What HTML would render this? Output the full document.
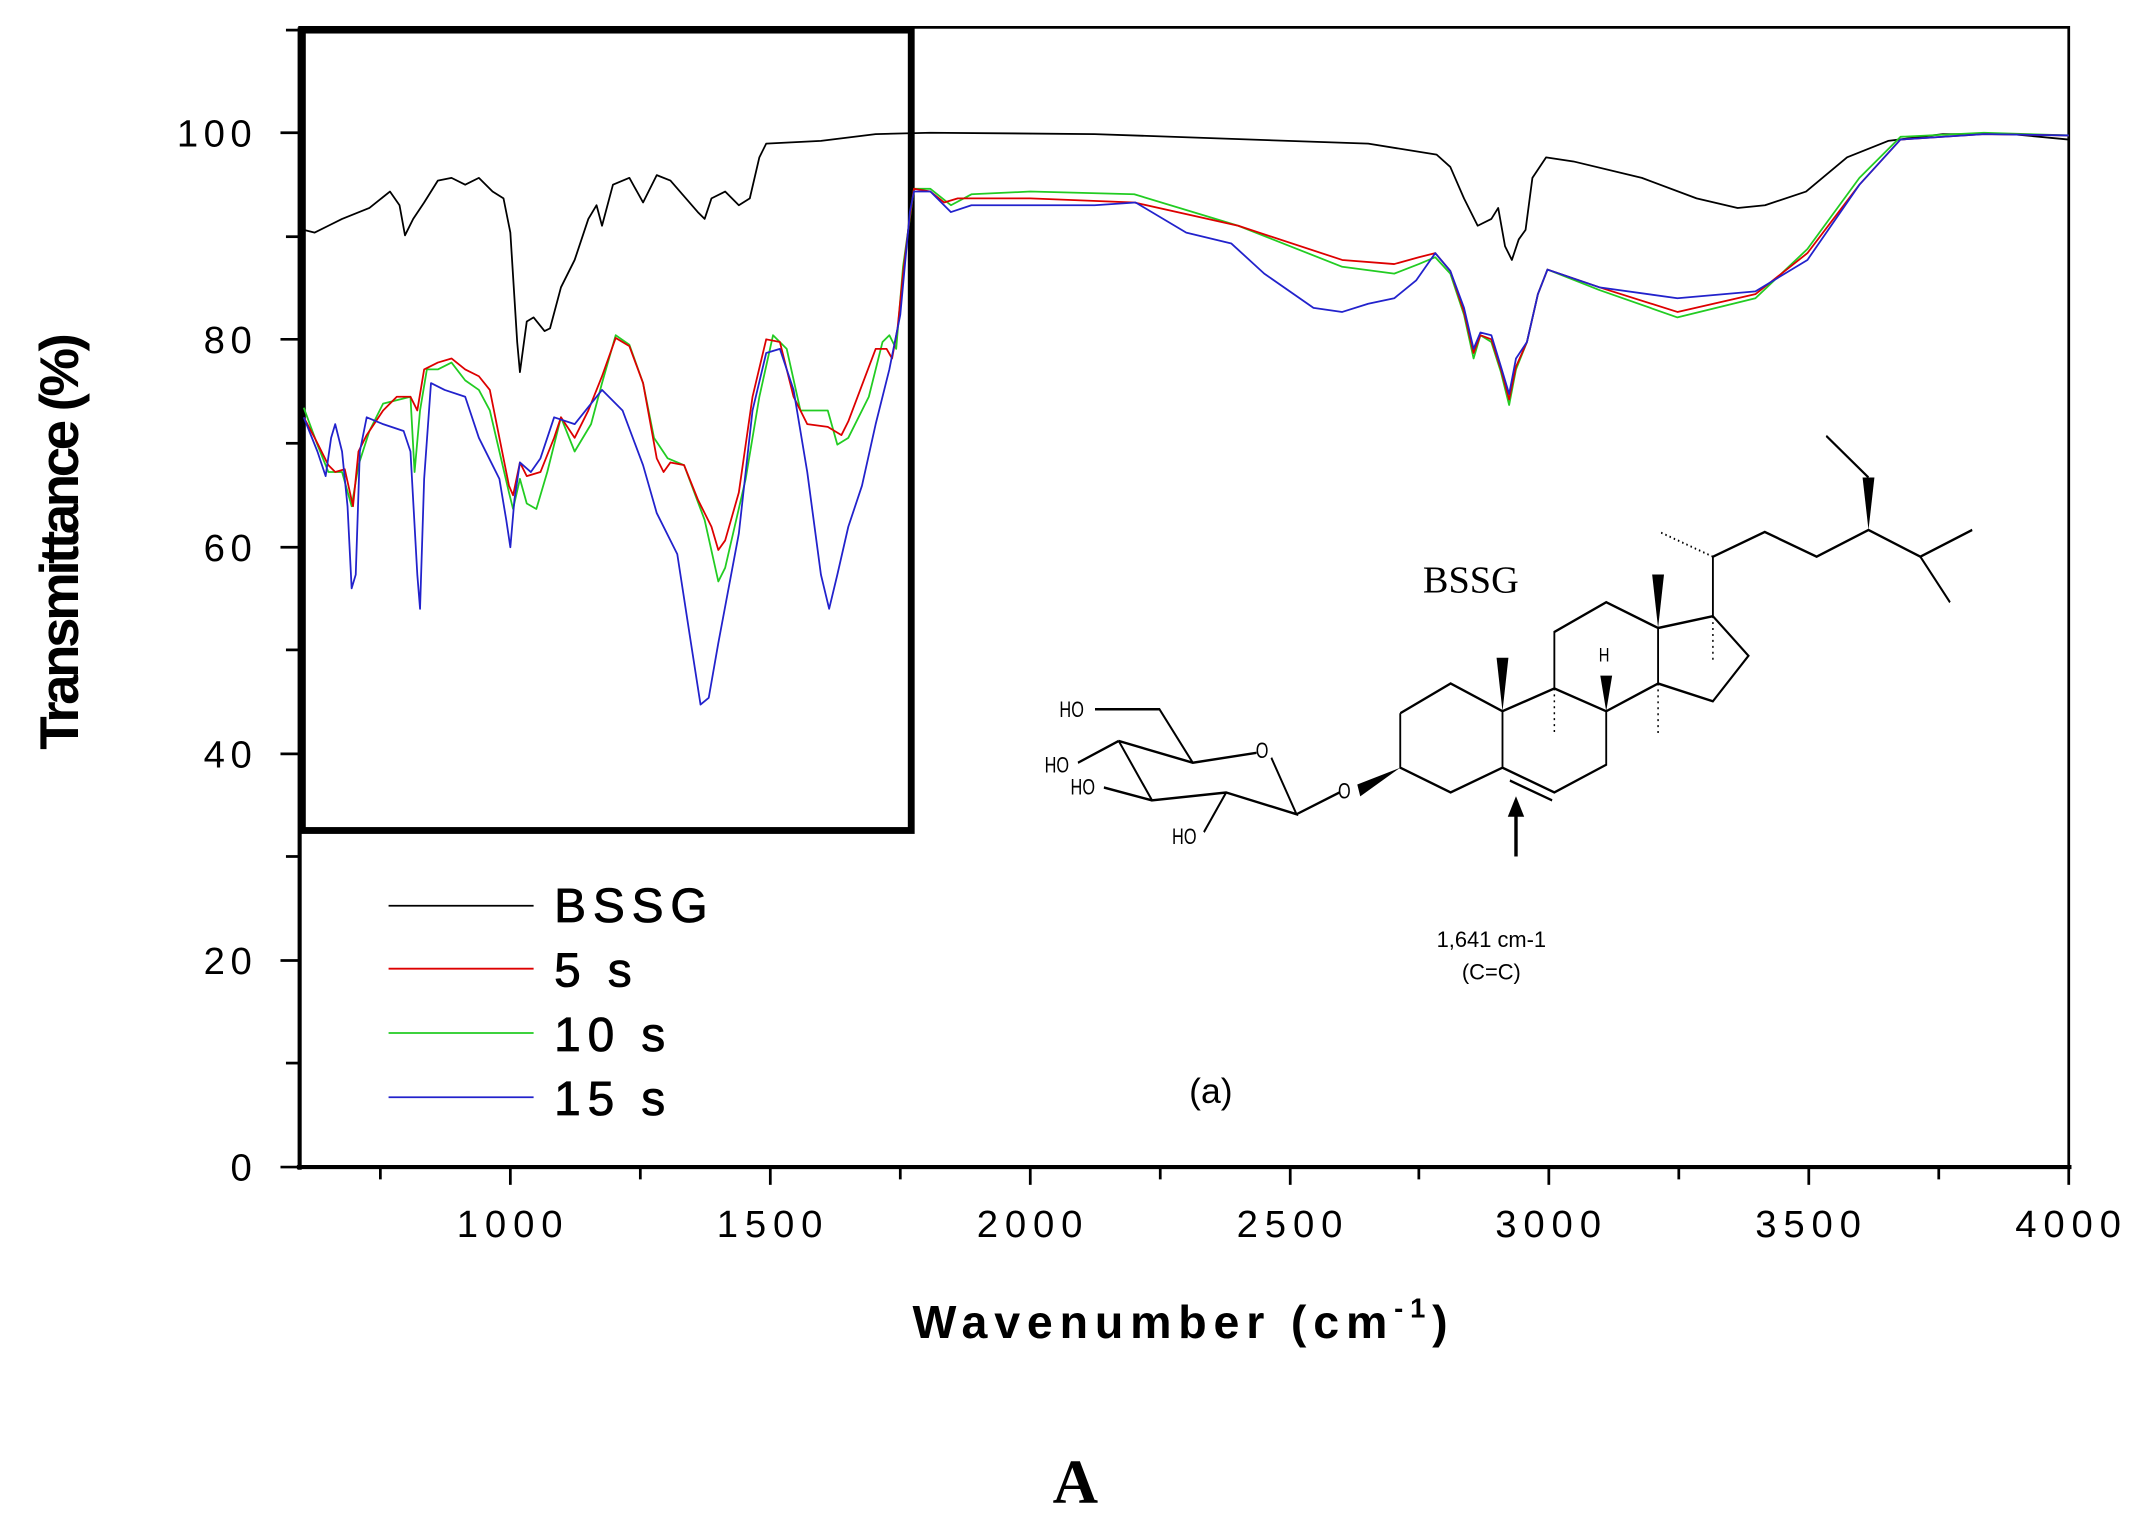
<!DOCTYPE html>
<html><head><meta charset="utf-8"><style>
html,body{margin:0;padding:0;background:#fff;}
svg{display:block;}
text{font-family:"Liberation Sans",sans-serif;}
</style></head><body>
<svg width="2144" height="1531" viewBox="0 0 1567 1119" preserveAspectRatio="none" xmlns="http://www.w3.org/2000/svg">
<rect width="1567" height="1119" fill="#fff"/>
<rect x="219" y="20" width="1293" height="833" fill="none" stroke="#000" stroke-width="2"/>
<line x1="219" y1="20" x2="219" y2="855" stroke="#000" stroke-width="3"/>
<line x1="217" y1="853" x2="1514" y2="853" stroke="#000" stroke-width="3"/>
<rect x="221" y="22" width="445" height="585" fill="none" stroke="#000" stroke-width="5"/>
<g stroke="#000" stroke-width="2">
<line x1="205" y1="853" x2="219" y2="853"/><line x1="205" y1="702" x2="219" y2="702"/><line x1="205" y1="551" x2="219" y2="551"/><line x1="205" y1="400" x2="219" y2="400"/><line x1="205" y1="248" x2="219" y2="248"/><line x1="205" y1="97" x2="219" y2="97"/>
<line x1="209" y1="777" x2="219" y2="777"/><line x1="209" y1="626" x2="219" y2="626"/><line x1="209" y1="475" x2="219" y2="475"/><line x1="209" y1="324" x2="219" y2="324"/><line x1="209" y1="173" x2="219" y2="173"/><line x1="209" y1="22" x2="219" y2="22"/>
<line x1="373" y1="853" x2="373" y2="866"/><line x1="563" y1="853" x2="563" y2="866"/><line x1="753" y1="853" x2="753" y2="866"/><line x1="943" y1="853" x2="943" y2="866"/><line x1="1132" y1="853" x2="1132" y2="866"/><line x1="1322" y1="853" x2="1322" y2="866"/><line x1="1512" y1="853" x2="1512" y2="866"/>
<line x1="278" y1="853" x2="278" y2="862"/><line x1="468" y1="853" x2="468" y2="862"/><line x1="658" y1="853" x2="658" y2="862"/><line x1="848" y1="853" x2="848" y2="862"/><line x1="1037" y1="853" x2="1037" y2="862"/><line x1="1227" y1="853" x2="1227" y2="862"/><line x1="1417" y1="853" x2="1417" y2="862"/>
</g>
<g font-size="28" text-anchor="end" letter-spacing="4" fill="#000">
<text x="188" y="863">0</text><text x="188" y="712">20</text><text x="188" y="561">40</text><text x="188" y="410">60</text><text x="188" y="258">80</text><text x="188" y="107">100</text>
</g>
<g font-size="28" text-anchor="middle" letter-spacing="5" fill="#000">
<text x="375" y="904">1000</text><text x="565" y="904">1500</text><text x="755" y="904">2000</text><text x="945" y="904">2500</text><text x="1134" y="904">3000</text><text x="1324" y="904">3500</text><text x="1514" y="904">4000</text>
</g>
<text x="865" y="978" font-size="34" font-weight="bold" text-anchor="middle" letter-spacing="5">Wavenumber (cm<tspan font-size="20" dy="-15">-1</tspan><tspan dy="15">)</tspan></text>
<text transform="translate(57,397) rotate(-90)" font-size="40" font-weight="bold" text-anchor="middle" letter-spacing="-2.5">Transmittance (%)</text>
<text x="786" y="1098" font-size="46" font-weight="bold" text-anchor="middle" style="font-family:'Liberation Serif',serif">A</text>
<g stroke-width="1.3">
<line x1="284" y1="662" x2="390" y2="662" stroke="#000"/>
<line x1="284" y1="708" x2="390" y2="708" stroke="#d00"/>
<line x1="284" y1="755" x2="390" y2="755" stroke="#2c2"/>
<line x1="284" y1="802" x2="390" y2="802" stroke="#22c"/>
</g>
<g font-size="35" letter-spacing="5" fill="#000" stroke="#000" stroke-width="0.6">
<text x="405" y="674">BSSG</text><text x="405" y="721">5 s</text><text x="405" y="768">10 s</text><text x="405" y="815">15 s</text>
</g>
<text x="885" y="806" font-size="26" text-anchor="middle">(a)</text>
<g fill="none" stroke-width="1.3" stroke-linejoin="round">
<polyline stroke="#000" points="222,168 230,170 240,165 250,160 270,152 285,140 292,150 296,172 302,160 310,148 320,132 330,130 340,135 350,130 360,140 368,145 373,170 378,250 380,272 385,235 390,232 398,242 402,240 410,210 420,190 430,160 436,150 440,165 448,135 460,130 470,148 480,128 490,132 510,155 515,160 520,145 530,140 540,150 548,145 555,115 560,105 600,103 640,98 680,97 800,98 1000,105 1050,113 1060,122 1070,145 1080,165 1090,160 1095,152 1100,180 1105,190 1110,175 1115,168 1120,130 1130,115 1150,118 1200,130 1240,145 1270,152 1290,150 1320,140 1350,115 1380,103 1420,98 1470,98 1512,102"/>
<polyline stroke="#2c2" points="222,298 232,325 240,345 250,345 257,370 262,340 270,315 280,295 300,290 303,345 307,300 312,270 320,270 330,265 340,278 350,285 358,300 365,330 372,360 375,372 380,350 385,368 392,372 400,345 410,305 420,330 432,310 440,280 450,245 460,252 470,280 478,320 488,335 500,340 515,380 525,425 530,415 545,350 555,290 565,245 575,255 585,300 595,300 605,300 612,325 620,320 635,290 645,250 650,245 655,255 660,195 668,138 680,138 695,150 710,142 753,140 829,142 905,165 981,195 1019,200 1037,193 1049,188 1060,200 1070,230 1077,262 1082,245 1090,250 1097,272 1103,296 1108,270 1116,250 1124,215 1131,197 1169,212 1226,232 1283,218 1321,182 1359,130 1389,100 1450,97 1512,99"/>
<polyline stroke="#d00" points="222,305 230,320 240,340 245,345 252,343 258,370 262,330 268,318 280,300 290,290 300,290 305,300 310,270 320,265 330,262 340,270 350,275 358,285 365,320 372,355 375,362 380,338 385,348 395,345 405,320 410,305 420,320 430,300 440,275 450,247 460,253 470,280 480,335 485,345 490,338 500,340 510,365 520,385 525,402 530,395 540,360 550,290 560,248 570,250 580,290 590,310 605,312 615,318 620,308 640,255 648,255 652,262 656,240 660,200 665,158 668,138 680,140 690,148 700,145 753,145 829,148 905,165 981,190 1019,193 1037,188 1049,185 1060,198 1070,228 1077,258 1082,245 1090,248 1097,270 1103,292 1108,268 1116,250 1124,215 1131,197 1169,210 1226,228 1283,215 1321,185 1359,135 1389,102 1450,98 1512,99"/>
<polyline stroke="#22c" points="222,305 232,330 238,348 242,320 245,310 250,330 254,370 257,430 260,420 263,330 268,305 280,310 295,315 300,330 305,420 307,445 310,350 315,280 325,285 340,290 350,320 360,340 365,350 370,380 373,400 376,365 380,338 388,345 395,335 405,305 420,310 440,285 455,300 470,340 480,375 495,405 505,470 512,515 518,510 525,470 540,390 550,300 560,258 570,255 580,285 590,345 600,420 606,445 612,420 620,385 630,355 640,310 650,270 658,230 665,155 668,140 680,140 695,155 710,150 750,150 800,150 830,148 867,170 900,178 924,200 960,225 981,228 1000,222 1019,218 1035,205 1049,185 1060,198 1070,225 1077,255 1082,243 1090,245 1097,268 1103,288 1108,262 1116,250 1124,215 1131,197 1169,210 1226,218 1283,213 1321,190 1359,135 1389,102 1450,98 1512,99"/>
</g>
<text x="1075" y="433" font-size="28" text-anchor="middle" style="font-family:'Liberation Serif',serif">BSSG</text>
<text x="1090" y="692" font-size="16" text-anchor="middle">1,641 cm-1</text>
<text x="1090" y="716" font-size="16" text-anchor="middle">(C=C)</text>
<line x1="1108" y1="626" x2="1108" y2="595" stroke="#000" stroke-width="2.5"/>
<polygon points="1102,597 1114,597 1108,582" fill="#000"/>
<g transform="translate(731,0) scale(0.5415,0.724)">
<g fill="none" stroke="#000" stroke-width="2.5">
<polyline points="540,720 608,690 678,718 678,775 608,800 540,775 540,720"/>
<polyline points="678,718 748,695 818,718 818,772 748,800 678,775"/>
<line x1="688" y1="788" x2="745" y2="808"/>
<polyline points="748,695 748,638 818,608 888,634 888,690 818,718"/>
<polyline points="888,634 962,622 1010,662 962,708 888,690"/>
<polyline points="962,622 962,562 1032,537 1102,562 1172,535 1242,562 1312,535"/>
<line x1="1242" y1="562" x2="1282" y2="608"/>
<line x1="1172" y1="482" x2="1115" y2="440"/>
<polyline points="160,748 260,770 346,760"/>
<polyline points="366,765 400,822 305,800 205,808 160,748"/>
<polyline points="260,770 215,716 128,716"/>
<line x1="400" y1="822" x2="458" y2="800"/>
<line x1="160" y1="748" x2="105" y2="770"/>
<line x1="205" y1="808" x2="140" y2="795"/>
<line x1="305" y1="800" x2="275" y2="840"/>
</g>
<g fill="#000">
<polygon points="540,775 482,792 486,804"/>
<polygon points="1172,535 1164,482 1180,482"/>
<polygon points="678,718 670,664 686,664"/>
<polygon points="888,634 880,580 896,580"/>
<polygon points="818,718 810,682 826,682"/>
</g>
<g stroke="#000" stroke-width="2" stroke-dasharray="2,4">
<line x1="962" y1="562" x2="890" y2="537"/>
<line x1="748" y1="695" x2="748" y2="740"/>
<line x1="888" y1="690" x2="888" y2="740"/>
<line x1="962" y1="622" x2="962" y2="668"/>
</g>
<g font-size="22" fill="#000">
<text x="80" y="724">HO</text><text x="60" y="780">HO</text><text x="95" y="802">HO</text><text x="232" y="852">HO</text>
<text x="345" y="765">O</text><text x="456" y="806">O</text>
<text x="808" y="668" font-size="20">H</text>
</g>
</g>
</svg>
</body></html>
